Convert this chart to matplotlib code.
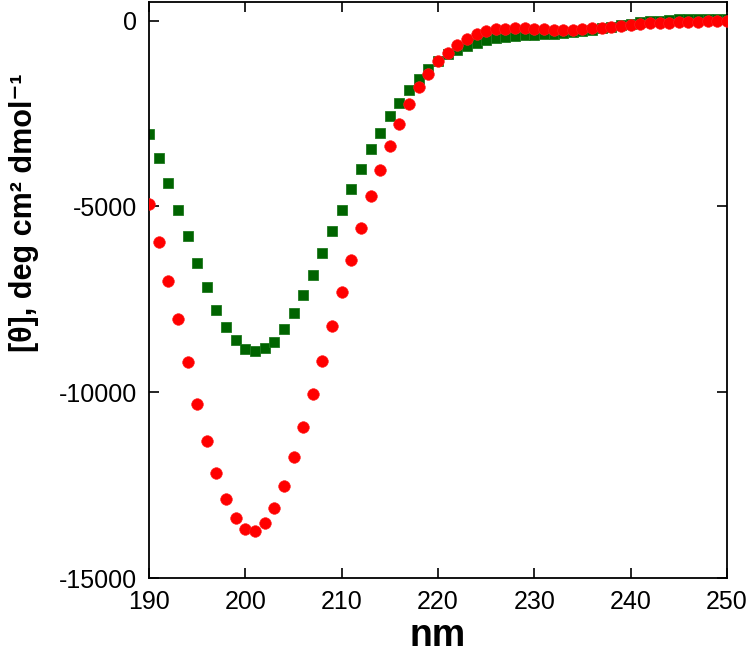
import matplotlib
matplotlib.use("Agg")
import matplotlib.pyplot as plt
import numpy as np

wavelength = list(range(190, 251))

green_theta = [-3050, -3690, -4370, -5095, -5795, -6530, -7165, -7775, -8240, -8590,
               -8840, -8895, -8800, -8640, -8290, -7865, -7390, -6835, -6260, -5660,
               -5105, -4545, -3990, -3460, -3030, -2555, -2215, -1865, -1570, -1300,
               -1085, -905, -790, -680, -590, -520, -470, -440, -420, -400,
               -385, -370, -350, -330, -310, -280, -250, -210, -170, -130,
               -90, -50, -20, 0, 20, 30, 35, 40, 40, 40, 40]

red_theta = [-4925, -5955, -6995, -8025, -9190, -10315, -11310, -12180, -12865, -13375,
             -13685, -13735, -13510, -13125, -12525, -11745, -10925, -10050, -9150, -8210,
             -7300, -6440, -5580, -4730, -4030, -3365, -2780, -2250, -1795, -1435,
             -1100, -880, -655, -500, -365, -280, -235, -225, -190, -190,
             -235, -235, -250, -250, -250, -235, -205, -190, -160, -140,
             -115, -90, -70, -55, -55, -35, -30, -30, -10, -10, 0]

xticks = [190, 200, 210, 220, 230, 240, 250]
yticks = [0, -5000, -10000, -15000]

plt.rcParams['font.family'] = ['Liberation Sans', 'DejaVu Sans']

fig = plt.figure(figsize=(7.49, 6.53), dpi=100)
ax = fig.add_axes([149/749, 75/653, 578/749, 576/653])

ax.plot(wavelength, green_theta, linestyle='none', marker='s', markersize=7.8,
        color='#006400', markeredgecolor='#1f7a1f', markeredgewidth=0.6, zorder=2)
ax.plot(wavelength, red_theta, linestyle='none', marker='o', markersize=8.4,
        color='#ff0000', markeredgecolor='#ff2020', markeredgewidth=0.4, zorder=3)

ax.set_xlim(190, 250)
ax.set_ylim(-15000, 500)
ax.set_xticks(xticks)
ax.set_yticks(yticks)
ax.set_xticklabels([str(v) for v in xticks])
ax.set_yticklabels([str(v) for v in yticks])

ax.tick_params(direction='in', length=7.5, width=1.2, top=True, right=True,
               labelsize=18, pad=8.5, colors='black')
for s in ax.spines.values():
    s.set_linewidth(1.3)

ax.set_xlabel('nm', fontsize=27, fontweight='bold', labelpad=3)
ax.set_ylabel('[θ], deg cm² dmol⁻¹', fontsize=22, fontweight='bold')
ax.yaxis.set_label_coords(-0.19, 0.635)

fig.savefig('out.png', dpi=100)
